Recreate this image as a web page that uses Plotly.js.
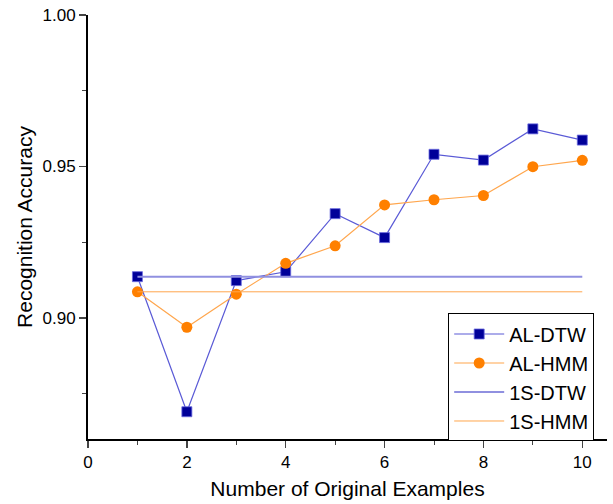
<!DOCTYPE html>
<html><head><meta charset="utf-8">
<script src="https://cdn.plot.ly/plotly-3.0.1.min.js"></script>
<style>html,body{margin:0;padding:0;background:#fff}#c{width:613px;height:504px}</style>
</head><body><div id="c"></div>
<script>
var examples = [1,2,3,4,5,6,7,8,9,10];
var alDTW = [0.9136,0.869,0.9123,0.9152,0.9344,0.9265,0.954,0.9521,0.9624,0.9587];
var alHMM = [0.9086,0.8969,0.9078,0.918,0.9238,0.9373,0.939,0.9404,0.9499,0.952];
var oneShotDTW = 0.9136;
var oneShotHMM = 0.9086;
var xTicks = [0,2,4,6,8,10];
var yTicks = [0.90,0.95,1.00];
var yTickLabels = ['0.90','0.95','1.00'];

function flat(v){ return examples.map(function(){return v;}); }

var traces = [
  {x:examples, y:alDTW, name:'AL-DTW', mode:'lines+markers',
   line:{color:'#5a5ad6', width:1.2}, marker:{symbol:'square', size:10, color:'#000099', line:{color:'#6a6ae0', width:0.8}}},
  {x:examples, y:alHMM, name:'AL-HMM', mode:'lines+markers',
   line:{color:'#ffa64d', width:1.2}, marker:{symbol:'circle', size:11, color:'#ff8000'}},
  {x:examples, y:flat(oneShotDTW), name:'1S-DTW', mode:'lines',
   line:{color:'#9090e0', width:2}},
  {x:examples, y:flat(oneShotHMM), name:'1S-HMM', mode:'lines',
   line:{color:'#ffa64d', width:1}}
];

var font = {family:'Arial, Liberation Sans, sans-serif', color:'#000'};
var layout = {
  width:613, height:504,
  margin:{l:88, r:6, t:15, b:65},
  paper_bgcolor:'#fff', plot_bgcolor:'#fff',
  font:font,
  showlegend:true,
  legend:{x:0.694, y:0.296, xanchor:'left', yanchor:'top', bordercolor:'#000', borderwidth:1,
          bgcolor:'#fff', font:{family:font.family, size:20, color:'#000'}, itemwidth:50,
          tracegroupgap:0},
  xaxis:{range:[0,10.5], tickvals:xTicks, ticktext:xTicks.map(String), ticks:'outside', ticklen:7, tickwidth:1.5,
         minor:{dtick:1, tick0:0, ticks:'outside', ticklen:4, tickwidth:1},
         showline:true, linecolor:'#000', linewidth:2, showgrid:false, zeroline:false,
         tickfont:{size:17}, title:{text:'Number of Original Examples', font:{size:21}, standoff:10}},
  yaxis:{range:[0.86,1.0], tickvals:yTicks, ticktext:yTickLabels, ticks:'outside', ticklen:7, tickwidth:1.5,
         minor:{dtick:0.025, tick0:0.85, ticks:'outside', ticklen:4, tickwidth:1},
         showline:true, linecolor:'#000', linewidth:2, showgrid:false, zeroline:false,
         tickfont:{size:17}, title:{text:'Recognition Accuracy', font:{size:21}, standoff:4}}
};
Plotly.newPlot('c', traces, layout, {displayModeBar:false, staticPlot:true});
</script></body></html>
